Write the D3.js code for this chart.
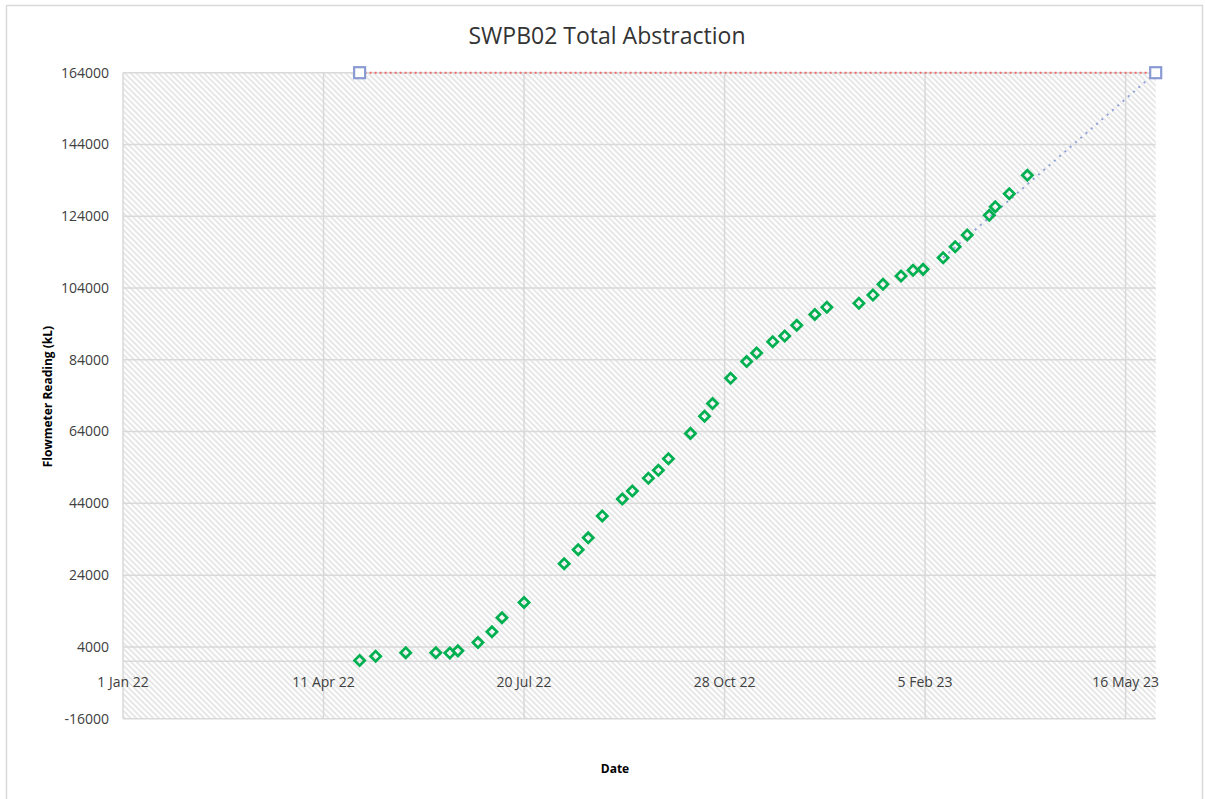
<!DOCTYPE html>
<html lang="en">
<head>
<meta charset="UTF-8">
<title>SWPB02 Total Abstraction</title>
<script src="https://cdn.jsdelivr.net/npm/d3@7/dist/d3.min.js"></script>
<style>
  body { margin: 0; background: #fff; }
  svg { display: block; font-family: "Open Sans", "Liberation Sans", sans-serif; }
  .tick-label { font-size: 14px; fill: #404040; }
  .axis-title { font-size: 12px; font-weight: bold; fill: #000; }
  .grid line { stroke: #d9d9d9; stroke-width: 1.5; }
</style>
</head>
<body>
<script>
// flowmeter readings (green diamonds)
var readingDates = [
  '2022-04-29', '2022-05-07', '2022-05-22', '2022-06-06', '2022-06-13', '2022-06-17',
  '2022-06-27', '2022-07-04', '2022-07-09', '2022-07-20', '2022-08-09', '2022-08-16',
  '2022-08-21', '2022-08-28', '2022-09-07', '2022-09-12', '2022-09-20', '2022-09-25',
  '2022-09-30', '2022-10-11', '2022-10-18', '2022-10-22', '2022-10-31', '2022-11-08',
  '2022-11-13', '2022-11-21', '2022-11-27', '2022-12-03', '2022-12-12', '2022-12-18',
  '2023-01-03', '2023-01-10', '2023-01-15', '2023-01-24', '2023-01-30', '2023-02-04',
  '2023-02-14', '2023-02-20', '2023-02-26', '2023-03-09', '2023-03-12', '2023-03-19',
  '2023-03-28'
];
var readingValues = [
  200, 1400, 2400, 2400, 2300, 2900,
  5200, 8200, 12150, 16400, 27200, 31100,
  34400, 40500, 45200, 47450, 51000, 53200,
  56450, 63500, 68300, 71800, 78850, 83500,
  85900, 89050, 90650, 93600, 96650, 98650,
  99750, 102050, 105050, 107350, 108950, 109200,
  112450, 115500, 118800, 124250, 126650, 130300,
  135400
];

// licence limit line (red dotted, square end markers)
var limitDates = ['2022-04-29', '2023-05-31'];
var limitValues = [164000, 164000];

// projection (blue dotted)
var projectionDates = ['2023-02-14', '2023-05-31'];
var projectionValues = [112450, 164000];

// axes
var xTickDates = ['2022-01-01', '2022-04-11', '2022-07-20', '2022-10-28', '2023-02-05', '2023-05-16'];
var xDomain = ['2022-01-01', '2023-05-31'];
var yTickValues = [-16000, 4000, 24000, 44000, 64000, 84000, 104000, 124000, 144000, 164000];

var W = 1205, H = 799;
var margin = {top: 72.7, left: 123, right: 49.3, bottom: 80.3};
var width = W - margin.left - margin.right,
    height = H - margin.top - margin.bottom;

var parse = d3.utcParse('%Y-%m-%d');
var fmt = d3.utcFormat('%-d %b %y');

var svg = d3.select('body').append('svg')
  .attr('width', W)
  .attr('height', H);

// chart border
svg.append('rect')
  .attr('x', 6.5).attr('y', 5.5)
  .attr('width', W - 9).attr('height', H + 10)
  .attr('fill', 'none')
  .attr('stroke', '#d9d9d9')
  .attr('stroke-width', 1.5);

// hatch pattern
var defs = svg.append('defs');
var pat = defs.append('pattern')
  .attr('id', 'hatch')
  .attr('patternUnits', 'userSpaceOnUse')
  .attr('width', 4).attr('height', 4)
  .attr('patternTransform', 'rotate(-45)');
pat.append('rect').attr('width', 4).attr('height', 4).attr('fill', '#ffffff');
pat.append('line')
  .attr('x1', 1).attr('y1', 0).attr('x2', 1).attr('y2', 4)
  .attr('stroke', '#d8d8d8').attr('stroke-width', 1.2);

var g = svg.append('g')
  .attr('transform', 'translate(' + margin.left + ',' + margin.top + ')');

var x = d3.scaleUtc()
  .domain(xDomain.map(parse))
  .range([0, width]);

var y = d3.scaleLinear()
  .domain([-16000, 164000])
  .range([height, 0]);

g.append('rect')
  .attr('width', width).attr('height', height)
  .attr('fill', 'url(#hatch)');

// gridlines
var grid = g.append('g').attr('class', 'grid');
grid.selectAll('.hg')
  .data(yTickValues.concat([0]))
  .enter().append('line')
  .attr('x1', 0).attr('x2', width)
  .attr('y1', function(d) { return y(d); })
  .attr('y2', function(d) { return y(d); });
grid.selectAll('.vg')
  .data(xTickDates.map(parse))
  .enter().append('line')
  .attr('y1', 0).attr('y2', height)
  .attr('x1', function(d) { return x(d); })
  .attr('x2', function(d) { return x(d); });

// tick labels
g.selectAll('.ylab')
  .data(yTickValues)
  .enter().append('text')
  .attr('class', 'tick-label')
  .attr('x', -14)
  .attr('y', function(d) { return y(d); })
  .attr('dy', '0.35em')
  .attr('text-anchor', 'end')
  .text(function(d) { return d; });

g.selectAll('.xlab')
  .data(xTickDates.map(parse))
  .enter().append('text')
  .attr('class', 'tick-label')
  .attr('x', function(d) { return x(d); })
  .attr('y', y(0) + 21)
  .attr('dy', '0.35em')
  .attr('text-anchor', 'middle')
  .text(function(d) { return fmt(d); });

// lines
var line = d3.line()
  .x(function(d) { return x(d[0]); })
  .y(function(d) { return y(d[1]); });

var limitData = limitDates.map(function(d, i) { return [parse(d), limitValues[i]]; });
var projData = projectionDates.map(function(d, i) { return [parse(d), projectionValues[i]]; });
var readings = readingDates.map(function(d, i) { return [parse(d), readingValues[i]]; });

g.append('path')
  .datum(projData)
  .attr('d', line)
  .attr('fill', 'none')
  .attr('stroke', '#8fa3d8')
  .attr('stroke-width', 2)
  .attr('stroke-dasharray', '2,5');

g.append('path')
  .datum(limitData)
  .attr('d', line)
  .attr('fill', 'none')
  .attr('stroke', '#ee6a6a')
  .attr('stroke-width', 2)
  .attr('stroke-dasharray', '2,3');

// markers
g.selectAll('.reading')
  .data(readings)
  .enter().append('path')
  .attr('class', 'reading')
  .attr('d', d3.symbol(d3.symbolSquare, 52)())
  .attr('transform', function(d) {
    return 'translate(' + x(d[0]) + ',' + y(d[1]) + ') rotate(45)';
  })
  .attr('fill', 'none')
  .attr('stroke', '#00b050')
  .attr('stroke-width', 2.7);

g.selectAll('.limit')
  .data(limitData)
  .enter().append('rect')
  .attr('x', function(d) { return x(d[0]) - 5.5; })
  .attr('y', function(d) { return y(d[1]) - 5.5; })
  .attr('width', 11).attr('height', 11)
  .attr('fill', '#fff')
  .attr('stroke', '#8a9bd4')
  .attr('stroke-width', 2.2);

// titles
svg.append('text')
  .attr('x', 607).attr('y', 44)
  .attr('text-anchor', 'middle')
  .style('font-size', '23px')
  .style('fill', '#333')
  .text('SWPB02 Total Abstraction');

svg.append('text')
  .attr('class', 'axis-title')
  .attr('transform', 'translate(52,' + (margin.top + y(64000) - 35) + ') rotate(-90)')
  .attr('text-anchor', 'middle')
  .text('Flowmeter Reading (kL)');

svg.append('text')
  .attr('class', 'axis-title')
  .attr('x', 615).attr('y', 773)
  .attr('text-anchor', 'middle')
  .text('Date');
</script>
</body>
</html>
